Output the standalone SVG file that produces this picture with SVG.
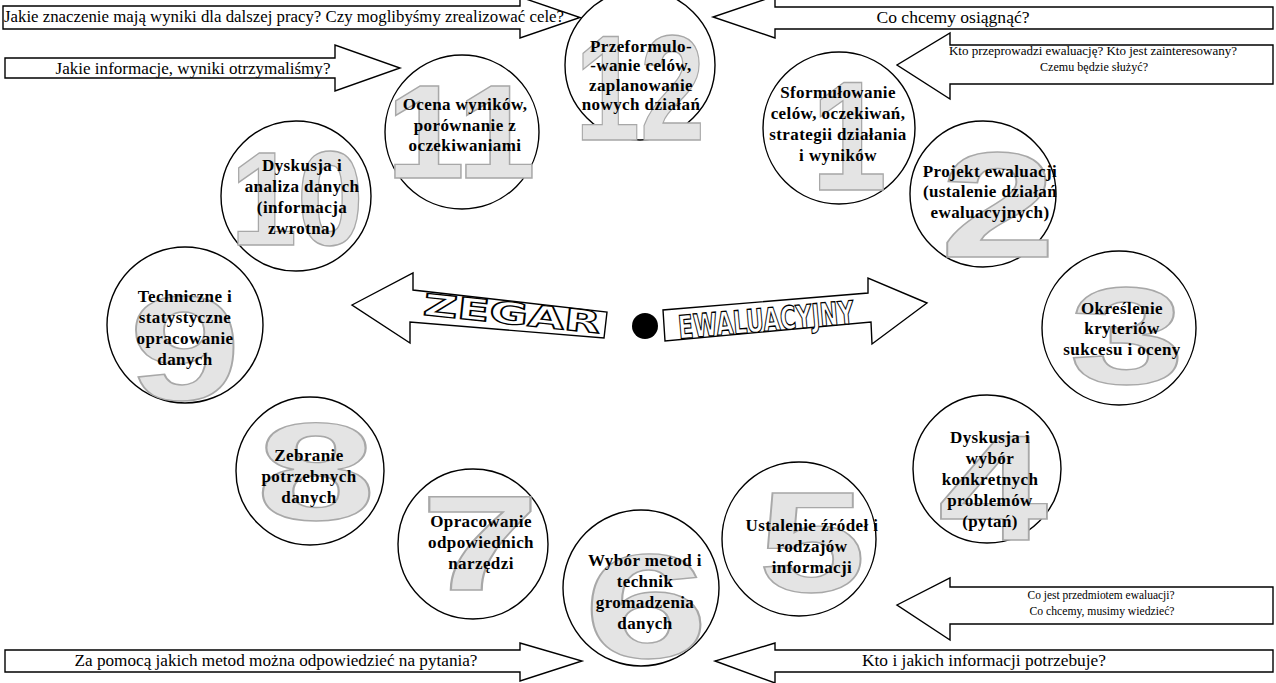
<svg xmlns="http://www.w3.org/2000/svg" width="1276" height="683" viewBox="0 0 1276 683">
<style>
.bg{fill:#ffffff}
.arr{fill:#ffffff;stroke:#000;stroke-width:1.4;stroke-linejoin:miter}
.ring{fill:#ffffff;stroke:#000;stroke-width:1.4}
.num{font-family:"Liberation Sans",Arial,sans-serif;font-weight:bold;fill:#e4e4e4;stroke:#a8a8a8;stroke-width:1.4;text-anchor:middle}
.lbl{font-family:"Liberation Serif","Times New Roman",serif;font-weight:bold;font-size:17px;fill:#000;text-anchor:middle;letter-spacing:0.4px}
.q{font-family:"Liberation Serif","Times New Roman",serif;font-size:17.5px;fill:#000;text-anchor:middle}
.qs{font-family:"Liberation Serif","Times New Roman",serif;font-size:13px;fill:#000;text-anchor:middle}
.out{font-family:"DejaVu Sans","Liberation Sans",sans-serif;font-weight:bold;fill:#fff;stroke:#000;stroke-width:1.3;text-anchor:middle}
</style>
<rect class="bg" x="0" y="0" width="1276" height="683"/>
<g id="connectors">
  <path class="arr" d="M3,6 H520 V-3 L580,17.5 L520,38 V29 H3 Z"/>
  <path class="arr" d="M5,58 H335 V45 L400,68 L335,91 V78 H5 Z"/>
  <path class="arr" d="M1273,7 H775 V-4 L713,17 L775,38 V29 H1273 Z"/>
  <path class="arr" d="M1273,45 H950 V33 L897,65 L950,99 V84 H1273 Z"/>
  <path class="arr" d="M1273,587 H950 V578 L897,605 L950,640 V624 H1273 Z"/>
  <path class="arr" d="M1273,650 H775 V643 L715,661 L775,683 V672 H1273 Z"/>
  <path class="arr" d="M5,650 H520 V643 L582,661 L520,681 V672 H5 Z"/>
  <path class="arr" d="M352,305 L413,273 L413,290 L607,312 L604,338 L410,322 L410,343 Z"/>
  <path class="arr" d="M927,303 L868,278 L868,293 L663,310 L665,341 L871,322 L872,344 Z"/>
  <circle cx="645" cy="326" r="13" fill="#000"/>
  <text class="out" x="0" y="0" font-size="30" textLength="178" lengthAdjust="spacingAndGlyphs" transform="translate(511,324) rotate(6)">ZEGAR</text>
  <text class="out" x="0" y="0" font-size="32" textLength="176" lengthAdjust="spacingAndGlyphs" transform="translate(767,331) rotate(-5)">EWALUACYJNY</text>
  <text class="q" x="284" y="22" textLength="560" lengthAdjust="spacingAndGlyphs">Jakie znaczenie mają wyniki dla dalszej pracy? Czy moglibyśmy zrealizować cele?</text>
  <text class="q" x="193" y="74" textLength="275" lengthAdjust="spacingAndGlyphs">Jakie informacje, wyniki otrzymaliśmy?</text>
  <text class="q" x="953" y="23" textLength="153" lengthAdjust="spacingAndGlyphs">Co chcemy osiągnąć?</text>
  <text class="qs" x="1093" y="55" textLength="288" lengthAdjust="spacingAndGlyphs">Kto przeprowadzi ewaluację? Kto jest zainteresowany?</text>
  <text class="qs" x="1094" y="71" textLength="108" lengthAdjust="spacingAndGlyphs">Czemu będzie służyć?</text>
  <text class="qs" x="1101" y="599" textLength="147" lengthAdjust="spacingAndGlyphs">Co jest przedmiotem ewaluacji?</text>
  <text class="qs" x="1102" y="615" textLength="145" lengthAdjust="spacingAndGlyphs">Co chcemy, musimy wiedzieć?</text>
  <text class="q" x="984" y="666" textLength="244" lengthAdjust="spacingAndGlyphs">Kto i jakich informacji potrzebuje?</text>
  <text class="q" x="276" y="666" textLength="403" lengthAdjust="spacingAndGlyphs">Za pomocą jakich metod można odpowiedzieć na pytania?</text>
</g>
<g id="node12">
  <circle class="ring" cx="640" cy="65" r="75"/>
  <text class="num" x="640" y="140" font-size="150" textLength="130" lengthAdjust="spacingAndGlyphs">12</text>
  <text class="lbl"><tspan x="641" y="52">Przeformulo-</tspan><tspan x="641" y="71">-wanie celów,</tspan><tspan x="641" y="91">zaplanowanie</tspan><tspan x="641" y="110">nowych działań</tspan></text>
</g>
<g id="node1">
  <circle class="ring" cx="839" cy="128" r="76"/>
  <text class="num" x="849" y="190" font-size="156" textLength="76" lengthAdjust="spacingAndGlyphs">1</text>
  <text class="lbl"><tspan x="838" y="98">Sformułowanie</tspan><tspan x="838" y="119">celów, oczekiwań,</tspan><tspan x="838" y="140">strategii działania</tspan><tspan x="838" y="161">i wyników</tspan></text>
</g>
<g id="node2">
  <circle class="ring" cx="983" cy="194" r="73"/>
  <text class="num" x="998" y="257" font-size="150" textLength="116" lengthAdjust="spacingAndGlyphs">2</text>
  <text class="lbl"><tspan x="990" y="177">Projekt ewaluacji</tspan><tspan x="990" y="197">(ustalenie działań</tspan><tspan x="990" y="218">ewaluacyjnych)</tspan></text>
</g>
<g id="node3">
  <circle class="ring" cx="1119" cy="328" r="77"/>
  <text class="num" x="1127" y="383" font-size="137" textLength="116" lengthAdjust="spacingAndGlyphs">3</text>
  <text class="lbl"><tspan x="1122" y="314">Określenie</tspan><tspan x="1122" y="334">kryteriów</tspan><tspan x="1122" y="355">sukcesu i oceny</tspan></text>
</g>
<g id="node4">
  <circle class="ring" cx="987" cy="469" r="74"/>
  <text class="num" x="993" y="540" font-size="150" textLength="110" lengthAdjust="spacingAndGlyphs">4</text>
  <text class="lbl"><tspan x="990" y="443">Dyskusja i</tspan><tspan x="990" y="464">wybór</tspan><tspan x="990" y="485">konkretnych</tspan><tspan x="990" y="506">problemów</tspan><tspan x="990" y="527">(pytań)</tspan></text>
</g>
<g id="node5">
  <circle class="ring" cx="799" cy="539" r="77"/>
  <text class="num" x="812" y="592" font-size="142" textLength="108" lengthAdjust="spacingAndGlyphs">5</text>
  <text class="lbl"><tspan x="812" y="531">Ustalenie źródeł i</tspan><tspan x="812" y="552">rodzajów</tspan><tspan x="812" y="573">informacji</tspan></text>
</g>
<g id="node6">
  <circle class="ring" cx="641" cy="588" r="78"/>
  <text class="num" x="646" y="658" font-size="148" textLength="125" lengthAdjust="spacingAndGlyphs">6</text>
  <text class="lbl"><tspan x="645" y="566">Wybór metod i</tspan><tspan x="645" y="587">technik</tspan><tspan x="645" y="608">gromadzenia</tspan><tspan x="645" y="629">danych</tspan></text>
</g>
<g id="node7">
  <circle class="ring" cx="473" cy="544" r="75"/>
  <text class="num" x="480" y="590" font-size="135" textLength="120" lengthAdjust="spacingAndGlyphs">7</text>
  <text class="lbl"><tspan x="481" y="527">Opracowanie</tspan><tspan x="481" y="548">odpowiednich</tspan><tspan x="481" y="569">narzędzi</tspan></text>
</g>
<g id="node8">
  <circle class="ring" cx="310" cy="471" r="74"/>
  <text class="num" x="316" y="520" font-size="140" textLength="120" lengthAdjust="spacingAndGlyphs">8</text>
  <text class="lbl"><tspan x="309" y="461">Zebranie</tspan><tspan x="309" y="482">potrzebnych</tspan><tspan x="309" y="503">danych</tspan></text>
</g>
<g id="node9">
  <circle class="ring" cx="185" cy="325" r="78"/>
  <text class="num" x="185" y="400" font-size="148" textLength="112" lengthAdjust="spacingAndGlyphs">9</text>
  <text class="lbl"><tspan x="185" y="302">Techniczne i</tspan><tspan x="185" y="323">statystyczne</tspan><tspan x="185" y="344">opracowanie</tspan><tspan x="185" y="365">danych</tspan></text>
</g>
<g id="node10">
  <circle class="ring" cx="296" cy="196" r="75"/>
  <text class="num" x="297" y="245" font-size="133" textLength="133" lengthAdjust="spacingAndGlyphs">10</text>
  <text class="lbl"><tspan x="302" y="171">Dyskusja i</tspan><tspan x="302" y="192">analiza danych</tspan><tspan x="302" y="213">(informacja</tspan><tspan x="302" y="234">zwrotna)</tspan></text>
</g>
<g id="node11">
  <circle class="ring" cx="462" cy="132" r="77"/>
  <text class="num" x="461" y="178" font-size="134" textLength="150" lengthAdjust="spacingAndGlyphs">11</text>
  <text class="lbl"><tspan x="465" y="110">Ocena wyników,</tspan><tspan x="465" y="131">porównanie  z</tspan><tspan x="465" y="151">oczekiwaniami</tspan></text>
</g>
</svg>
